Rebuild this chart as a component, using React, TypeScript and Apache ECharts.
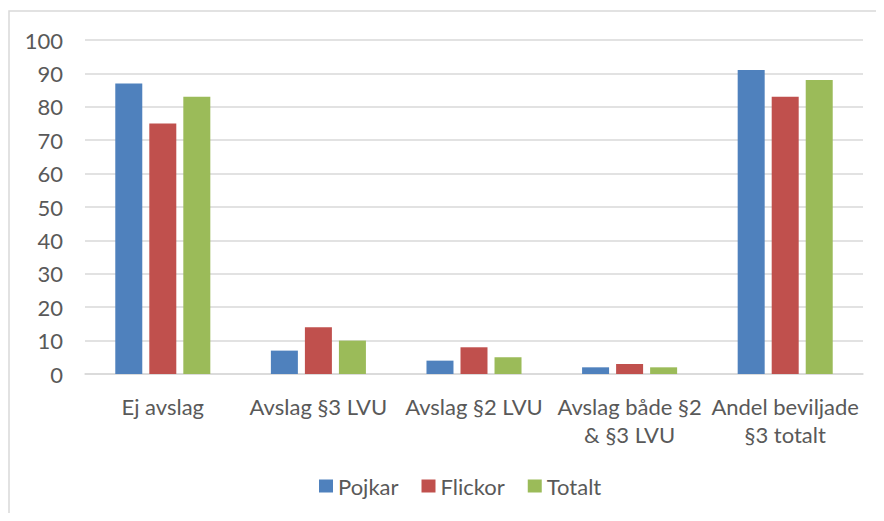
import React, { useEffect, useRef } from "react";
import * as echarts from "echarts";

const categories = [
  "Ej avslag",
  "Avslag §3 LVU",
  "Avslag §2 LVU",
  "Avslag både §2\n& §3 LVU",
  "Andel beviljade\n§3 totalt",
];
const seriesNames = ["Pojkar", "Flickor", "Totalt"];
const pojkar = [87, 7, 4, 2, 91];
const flickor = [75, 14, 8, 3, 83];
const totalt = [83, 10, 5, 2, 88];
const colors = ["#4f81bd", "#c0504d", "#9bbb59"];
const yTicks = { min: 0, max: 100, interval: 10 };

const FONT = "Lato";
const TEXT = "#595959";

export default function App() {
  const ref = useRef<HTMLDivElement>(null);
  useEffect(() => {
    if (!ref.current) return;
    const chart = echarts.init(ref.current, null, { renderer: "svg" });
    const values = [pojkar, flickor, totalt];
    chart.setOption({
      animation: false,
      backgroundColor: "#ffffff",
      textStyle: { fontFamily: FONT },
      graphic: [
        {
          type: "rect",
          shape: { x: 9, y: 11, width: 1000, height: 700 },
          style: { fill: "none", stroke: "#d9d9d9", lineWidth: 1.5 },
          silent: true,
        },
      ],
      grid: { left: 85, right: 21, top: 40, bottom: 147, containLabel: false },
      legend: {
        data: seriesNames,
        bottom: 19,
        left: 314,
        itemWidth: 14,
        itemHeight: 13,
        itemGap: 23,
        icon: "rect",
        textStyle: { color: TEXT, fontSize: 22, fontFamily: FONT },
      },
      xAxis: {
        type: "category",
        data: categories,
        axisLine: { show: true, lineStyle: { color: "#d9d9d9", width: 1.5 } },
        axisTick: { show: false },
        axisLabel: {
          color: TEXT,
          fontSize: 22,
          fontFamily: FONT,
          lineHeight: 28,
          margin: 18,
          interval: 0,
        },
      },
      yAxis: {
        type: "value",
        min: yTicks.min,
        max: yTicks.max,
        interval: yTicks.interval,
        axisLine: { show: false },
        axisTick: { show: false },
        splitLine: { lineStyle: { color: "#d9d9d9", width: 1.5 } },
        axisLabel: { color: TEXT, fontSize: 22, fontFamily: FONT, margin: 22 },
      },
      series: seriesNames.map((name, i) => ({
        name,
        type: "bar",
        data: values[i],
        barWidth: 27,
        barGap: "26%",
        itemStyle: { color: colors[i] },
      })),
    });
    return () => chart.dispose();
  }, []);
  return <div ref={ref} style={{ width: 884, height: 521, margin: -8 }} />;
}
